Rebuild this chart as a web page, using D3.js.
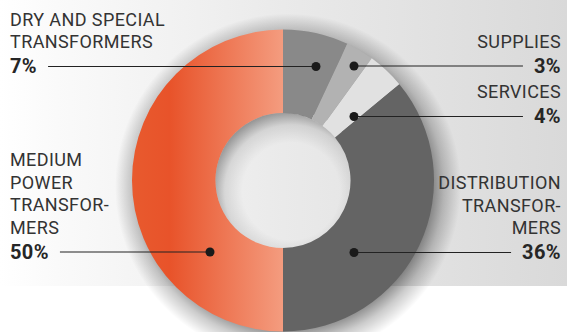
<!DOCTYPE html>
<html>
<head>
<meta charset="utf-8">
<script src="https://cdn.jsdelivr.net/npm/d3@7"></script>
<style>
  body { margin: 0; background: #fff; }
  svg { display: block; }
</style>
</head>
<body>
<svg id="chart"></svg>
<script>
const width = 567;
const height = 332;

// data
const categories = ["Dry and special transformers", "Supplies", "Services", "Distribution transformers", "Medium power transformers"];
const shares = [7, 3, 4, 36, 50];
const labelLines = [
    ["DRY AND SPECIAL", "TRANSFORMERS"],
    ["SUPPLIES"],
    ["SERVICES"],
    ["DISTRIBUTION", "TRANSFOR-", "MERS"],
    ["MEDIUM", "POWER", "TRANSFOR-", "MERS"]
];
const sliceColors = ["#898989", "#b2b2b2", "#e1e1e1", "#646464", "url(#orangeGrad)"];

// layout (not data)
const cx = 283, cy = 180.5;
const outerR = 151, innerR = 67.5;
const labelSide = ["left", "right", "right", "right", "left"];
const pctBaseline = [73, 72.5, 123, 259, 258.5];
const dotX = [316, 354, 354, 354, 210];
const lineH = 22.5;
const shadowSpread = 22;

const svg = d3.select("#chart")
    .attr("width", width)
    .attr("height", height);

const defs = svg.append("defs");

// background panel, white on the left to grey on the right
const bg = defs.append("linearGradient").attr("id", "bgGrad")
    .attr("x1", "0").attr("x2", "1").attr("y1", "0").attr("y2", "0");
bg.append("stop").attr("offset", "0%").attr("stop-color", "#ffffff");
bg.append("stop").attr("offset", "10%").attr("stop-color", "#fafafa");
bg.append("stop").attr("offset", "50%").attr("stop-color", "#eaeaea");
bg.append("stop").attr("offset", "100%").attr("stop-color", "#d9d9d9");

// gradient lives in the donut group's coordinates (centre = 0,0)
const og = defs.append("linearGradient").attr("id", "orangeGrad")
    .attr("gradientUnits", "userSpaceOnUse")
    .attr("x1", -outerR).attr("x2", 0).attr("y1", 0).attr("y2", 0);
og.append("stop").attr("offset", "0%").attr("stop-color", "#e85a2e");
og.append("stop").attr("offset", "25%").attr("stop-color", "#e8532a");
og.append("stop").attr("offset", "100%").attr("stop-color", "#f49c7f");

// outer soft shadow (radial gradient, no filters)
const sg = defs.append("radialGradient").attr("id", "outerShadow");
const inner = (outerR - 12) / (outerR + shadowSpread);
sg.append("stop").attr("offset", 0).attr("stop-color", "#000").attr("stop-opacity", 0.5);
sg.append("stop").attr("offset", inner).attr("stop-color", "#000").attr("stop-opacity", 0.5);
sg.append("stop").attr("offset", (inner + 1) / 2).attr("stop-color", "#000").attr("stop-opacity", 0.2);
sg.append("stop").attr("offset", 1).attr("stop-color", "#000").attr("stop-opacity", 0);

// shading inside the hole, heavier on the upper left
const hg = defs.append("radialGradient").attr("id", "holeShadow")
    .attr("cx", 0.56).attr("cy", 0.58).attr("r", 0.6);
hg.append("stop").attr("offset", 0.6).attr("stop-color", "#000").attr("stop-opacity", 0);
hg.append("stop").attr("offset", 0.82).attr("stop-color", "#000").attr("stop-opacity", 0.1);
hg.append("stop").attr("offset", 1).attr("stop-color", "#000").attr("stop-opacity", 0.38);

svg.append("rect")
    .attr("x", 0).attr("y", 0)
    .attr("width", width).attr("height", 286)
    .attr("fill", "url(#bgGrad)");

const pie = d3.pie().sort(null).value(d => d);
const arc = d3.arc().innerRadius(innerR).outerRadius(outerR);
const arcs = pie(shares);

const donut = svg.append("g")
    .attr("transform", `translate(${cx},${cy})`);

// inner edge kept under the ring so it never shows in the hole
donut.append("path")
    .attr("transform", "translate(5,6)")
    .attr("d", d3.arc().innerRadius(innerR + 9).outerRadius(outerR + shadowSpread)({ startAngle: 0, endAngle: 2 * Math.PI }))
    .attr("fill", "url(#outerShadow)");

donut.selectAll("path.slice")
    .data(arcs)
    .join("path")
    .attr("class", "slice")
    .attr("d", arc)
    .attr("fill", (d, i) => sliceColors[i]);

donut.append("circle")
    .attr("r", innerR)
    .attr("fill", "url(#holeShadow)");

// labels
const labels = svg.append("g").attr("font-family", "Roboto, 'DejaVu Sans', sans-serif");

arcs.forEach((a, i) => {
    const left = labelSide[i] === "left";
    const tx = left ? 10 : 561;
    const anchor = left ? "start" : "end";
    const lines = labelLines[i];
    const firstBase = pctBaseline[i] - 25 - (lines.length - 1) * lineH;

    lines.forEach((t, j) => {
        labels.append("text")
            .attr("x", tx)
            .attr("y", firstBase + j * lineH)
            .attr("text-anchor", anchor)
            .attr("font-size", 18)
            .attr("letter-spacing", 0.4)
            .attr("fill", "#333")
            .text(t);
    });

    const pct = labels.append("text")
        .attr("x", tx)
        .attr("y", pctBaseline[i])
        .attr("text-anchor", anchor)
        .attr("font-size", 20)
        .attr("font-weight", 700)
        .attr("letter-spacing", 0.4)
        .attr("fill", "#262626")
        .text(shares[i] + "%");

    const w = pct.node().getComputedTextLength();
    const ly = pctBaseline[i] - 6.5;
    const lx = left ? tx + w + 11 : tx - w - 11;

    svg.append("line")
        .attr("x1", lx).attr("x2", dotX[i])
        .attr("y1", ly).attr("y2", ly)
        .attr("stroke", "#222")
        .attr("stroke-width", 1.2);

    svg.append("circle")
        .attr("cx", dotX[i]).attr("cy", ly)
        .attr("r", 4.5)
        .attr("fill", "#1a1a1a");
});
</script>
</body>
</html>
